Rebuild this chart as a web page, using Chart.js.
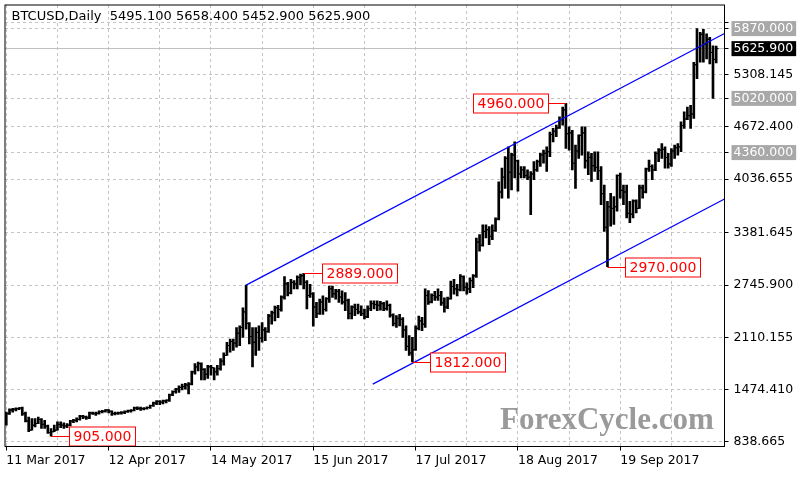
<!DOCTYPE html>
<html>
<head>
<meta charset="utf-8">
<title>BTCUSD Daily</title>
<script src="https://cdn.jsdelivr.net/npm/chart.js@4.4.0/dist/chart.umd.min.js"></script>
<style>
  html, body { margin: 0; padding: 0; background: #fff; }
  #wrap { width: 800px; height: 480px; position: relative; }
</style>
</head>
<body>
<div id="wrap"><canvas id="btc"></canvas></div>
<script>
// daily bars from 11 Mar 2017 to 19 Oct 2017
const firstDay = [2017, 2, 11];
const opens = [
  1100,1180,1225,1235,1240,1250,1180,1090,980,1040,
  1060,1110,1050,1030,950,960,980,1050,1040,1030,
  1040,1090,1100,1110,1150,1140,1130,1190,1180,1185,
  1205,1210,1225,1210,1180,1185,1190,1195,1205,1215,
  1220,1250,1245,1240,1245,1255,1280,1310,1330,1320,
  1335,1345,1410,1450,1480,1500,1510,1530,1540,1690,
  1750,1790,1720,1660,1750,1740,1690,1730,1820,1890,
  2010,2060,2040,2160,2230,2420,2280,2120,2050,2170,
  2100,2200,2180,2370,2410,2470,2450,2600,2760,2650,
  2780,2760,2840,2860,2780,2620,2640,2480,2400,2540,
  2450,2580,2700,2640,2670,2600,2540,2560,2400,2480,
  2450,2420,2400,2360,2460,2520,2510,2500,2520,2460,
  2500,2380,2280,2340,2330,2200,2000,1920,1960,2220,
  2310,2270,2620,2540,2620,2600,2620,2530,2480,2580,
  2730,2700,2690,2850,2720,2700,2800,2860,3270,3230,
  3400,3420,3340,3410,3550,3880,4060,4290,4120,4330,
  4260,4100,4150,4080,4060,4100,4150,4250,4330,4350,
  4370,4580,4620,4660,4760,4880,4590,4600,4230,4380,
  4570,4600,4260,4300,4200,4180,4140,3860,3450,3700,
  3680,3700,4080,3900,3880,3620,3610,3770,3680,3930,
  3880,4160,4190,4150,4350,4390,4400,4300,4220,4380,
  4420,4430,4690,4770,4810,4830,5430,5640,5800,5680,
  5740,5580,5495.1
];
const highs = [
  1200,1240,1245,1250,1255,1260,1200,1140,1120,1120,
  1140,1120,1100,1040,1000,1040,1080,1080,1070,1060,
  1100,1110,1130,1160,1160,1150,1200,1200,1200,1215,
  1220,1230,1230,1215,1200,1200,1205,1215,1225,1230,
  1260,1265,1260,1255,1265,1285,1320,1340,1340,1345,
  1350,1420,1460,1490,1520,1540,1550,1560,1700,1790,
  1810,1800,1730,1770,1770,1740,1770,1850,1920,2050,
  2090,2090,2230,2250,2470,2745,2290,2230,2230,2250,
  2290,2230,2390,2430,2490,2500,2615,2850,2780,2815,
  2800,2860,2880,2889,2800,2755,2655,2535,2575,2615,
  2595,2735,2735,2695,2695,2675,2655,2575,2495,2515,
  2515,2495,2455,2495,2555,2555,2555,2550,2535,2555,
  2515,2395,2375,2390,2350,2250,2130,2110,2250,2370,
  2355,2700,2680,2640,2670,2700,2670,2590,2600,2795,
  2815,2755,2875,2860,2775,2835,2875,3320,3360,3480,
  3480,3460,3480,3565,4005,4170,4310,4430,4350,4490,
  4270,4190,4190,4150,4130,4250,4270,4350,4390,4430,
  4610,4655,4695,4795,4915,4960,4675,4630,4450,4575,
  4675,4675,4370,4350,4370,4370,4190,3965,3765,3865,
  3825,4090,4110,3965,3965,3765,3785,3785,3965,3965,
  4170,4270,4210,4370,4410,4470,4430,4350,4410,4450,
  4470,4735,4855,4915,4935,5460,5870,5825,5860,5805,
  5765,5660,5658.4
];
const lows = [
  1040,1170,1200,1215,1230,1160,1080,960,980,1020,
  1060,1000,1000,940,905,960,980,1010,1000,1010,
  1030,1070,1080,1100,1120,1110,1120,1170,1160,1175,
  1190,1200,1190,1160,1165,1170,1175,1180,1195,1200,
  1215,1230,1220,1225,1235,1245,1270,1290,1290,1300,
  1310,1330,1400,1430,1440,1470,1480,1420,1530,1660,
  1700,1590,1590,1610,1650,1590,1650,1710,1770,1890,
  1930,1950,1990,2010,2110,2210,2030,1750,1890,1950,
  2050,2070,2170,2270,2310,2350,2430,2575,2615,2640,
  2700,2700,2750,2700,2455,2595,2245,2350,2390,2390,
  2430,2535,2595,2575,2535,2515,2435,2335,2335,2375,
  2395,2375,2335,2350,2435,2455,2435,2440,2435,2440,
  2355,2250,2230,2250,2110,1950,1890,1812,1950,2200,
  2190,2230,2510,2530,2560,2560,2500,2415,2460,2575,
  2635,2615,2675,2675,2635,2655,2715,2840,3160,3220,
  3320,3240,3300,3400,3540,3805,3925,3805,3905,4050,
  3890,4050,4050,4030,3605,4030,4130,4190,4230,4130,
  4310,4490,4555,4655,4695,4410,4390,4150,3925,4290,
  4330,4170,4090,4010,4130,4030,3725,3400,2970,3465,
  3485,3645,3805,3725,3565,3505,3565,3625,3680,3805,
  3870,4130,4030,4140,4250,4290,4170,4170,4190,4290,
  4330,4370,4655,4760,4655,4775,5260,5460,5460,5500,
  5440,5020,5452.9
];
const closes = [
  1180,1225,1235,1240,1250,1180,1090,980,1040,1060,
  1110,1050,1030,950,960,980,1050,1040,1030,1040,
  1090,1100,1110,1150,1140,1130,1190,1180,1185,1205,
  1210,1225,1210,1180,1185,1190,1195,1205,1215,1220,
  1250,1245,1240,1245,1255,1280,1310,1330,1320,1335,
  1345,1410,1450,1480,1500,1510,1530,1540,1690,1750,
  1790,1720,1660,1750,1740,1690,1730,1820,1890,2010,
  2060,2040,2160,2230,2420,2280,2120,2050,2170,2100,
  2200,2180,2370,2410,2470,2450,2600,2760,2650,2780,
  2760,2840,2860,2780,2620,2640,2480,2400,2540,2450,
  2580,2700,2640,2670,2600,2540,2560,2400,2480,2450,
  2420,2400,2360,2460,2520,2510,2500,2520,2460,2500,
  2380,2280,2340,2330,2200,2000,1920,1960,2220,2310,
  2270,2620,2540,2620,2600,2620,2530,2480,2580,2730,
  2700,2690,2850,2720,2700,2800,2860,3270,3230,3400,
  3420,3340,3410,3550,3880,4060,4290,4120,4330,4260,
  4100,4150,4080,4060,4100,4150,4250,4330,4350,4370,
  4580,4620,4660,4760,4880,4590,4600,4230,4380,4570,
  4600,4260,4300,4200,4180,4140,3860,3450,3700,3680,
  3700,4080,3900,3880,3620,3610,3770,3680,3930,3880,
  4160,4190,4150,4350,4390,4400,4300,4220,4380,4420,
  4430,4690,4770,4810,4830,5430,5640,5800,5680,5740,
  5580,5495.1,5625.9
];

// right price scale as printed
const priceTicks = [838.665, 1474.410, 2110.155, 2745.900, 3381.645, 4036.655, 4672.400, 5308.145, 5943.890];
const levelTicks = [4360.000, 5020.000, 5870.000];
const lastPrice = 5625.900;
const hiddenTick = 5943.890;

// marked highs and lows (bar index, price)
const markIdx = [14, 93, 127, 175, 188];
const markVal = [905.000, 2889.000, 1812.000, 4960.000, 2970.000];

// price channel anchors (bar index, price)
const upperChannel = [[75, 2745.9], [175, 4795]];
const lowerChannel = [[115, 1548], [215, 3598]];

const titleText = 'BTCUSD,Daily  5495.100 5658.400 5452.900 5625.900';
const slots = 225;

const months = ['Jan','Feb','Mar','Apr','May','Jun','Jul','Aug','Sep','Oct','Nov','Dec'];
const dates = [];
for (let i = 0; i < slots; i++) {
  const d = new Date(firstDay[0], firstDay[1], firstDay[2] + i);
  dates.push(d.getDate() + ' ' + months[d.getMonth()] + ' ' + d.getFullYear());
}

const xMin = -0.406, xMax = 224.6;

function channel(pts, from) {
  const [a, b] = pts;
  const k = (b[1] - a[1]) / (b[0] - a[0]);
  return [{x: from, y: a[1] + k * (from - a[0])}, {x: xMax, y: a[1] + k * (xMax - a[0])}];
}

const hl = lows.map((l, i) => ({x: i, y: [l, highs[i]]}));
const op = opens.map((v, i) => ({x: i, y: v}));
const cl = closes.map((v, i) => ({x: i, y: v}));

const axisFont = {family: 'DejaVu Sans', size: 12.5};
const isLevel = v => levelTicks.includes(v);

// frame, title, watermark and the red price tags
const overlay = {
  id: 'overlay',
  afterDatasetsDraw(chart) {
    const {ctx, scales: {x, y}} = chart;
    ctx.save();
    ctx.font = 'bold 31px "Liberation Serif"';
    ctx.fillStyle = '#9a9a9a';
    ctx.textBaseline = 'alphabetic';
    ctx.fillText('ForexCycle.com', 500, 429);

    ctx.font = '13px "DejaVu Sans"';
    ctx.fillStyle = '#000';
    ctx.fillText(titleText, 11.5, 20);

    ctx.font = '14px "DejaVu Sans"';
    ctx.lineWidth = 1;
    markIdx.forEach((idx, k) => {
      const px = x.getPixelForValue(idx);
      const py = Math.round(y.getPixelForValue(markVal[k])) + 0.5;
      const label = markVal[k].toFixed(3);
      const w = Math.round(ctx.measureText(label).width) + 8;
      const h = 19;
      const left = markVal[k] === 4960 ? Math.round(px - 18 - w) + 0.5 : Math.round(px + 18) + 0.5;
      ctx.strokeStyle = '#ff0000';
      ctx.beginPath();
      if (left < px) { ctx.moveTo(left + w, py); ctx.lineTo(px, py); }
      else { ctx.moveTo(px, py); ctx.lineTo(left, py); }
      ctx.stroke();
      ctx.fillStyle = '#fff';
      ctx.fillRect(left, py - h / 2, w, h);
      ctx.strokeRect(left, py - h / 2, w, h);
      ctx.fillStyle = '#ff0000';
      ctx.textBaseline = 'middle';
      ctx.fillText(label, left + 4, py + 1);
    });

    const a = chart.chartArea;
    ctx.strokeStyle = '#000';
    ctx.strokeRect(a.left, a.top, a.right - a.left, a.bottom - a.top);
    ctx.restore();
  }
};

new Chart(document.getElementById('btc'), {
  data: {
    datasets: [
      { type: 'line', data: channel(upperChannel, upperChannel[0][0]), borderColor: '#0000ff', borderWidth: 1.2, pointRadius: 0, tension: 0 },
      { type: 'line', data: channel(lowerChannel, 114.6), borderColor: '#0000ff', borderWidth: 1.2, pointRadius: 0, tension: 0 },
      { type: 'line', data: op, showLine: false, pointStyle: 'dash', pointRadius: 2.5, pointRotation: 180,
        pointBorderColor: '#000', pointBorderWidth: 1, pointBackgroundColor: '#000' },
      { type: 'line', data: cl, showLine: false, pointStyle: 'dash', pointRadius: 2.5, pointRotation: 0,
        pointBorderColor: '#000', pointBorderWidth: 1, pointBackgroundColor: '#000' },
      { type: 'bar', data: hl, backgroundColor: '#000', borderWidth: 0, barThickness: 2 }
    ]
  },
  options: {
    responsive: true,
    maintainAspectRatio: false,
    animation: false,
    devicePixelRatio: 1,
    layout: { padding: { left: 3.5, top: 2.5, right: 0, bottom: 0 } },
    plugins: { legend: { display: false }, tooltip: { enabled: false } },
    scales: {
      x: {
        type: 'linear', min: xMin, max: xMax, offset: false,
        afterBuildTicks: s => { const t = []; for (let i = 0; i <= 208; i += 16) t.push({value: i}); s.ticks = t; },
        afterFit: s => { s.height = 33.5; s.paddingLeft = 0; s.paddingRight = 0; },
        grid: {
          offset: false,
          color: '#c4c4c4', lineWidth: 1, tickLength: 4,
          tickColor: c => (c.tick && c.tick.value % 32 === 0) ? '#000' : 'rgba(0,0,0,0)'
        },
        border: { display: false, dash: [3, 3] },
        ticks: {
          autoSkip: false, maxRotation: 0, minRotation: 0, align: 'start', padding: 3,
          font: axisFont, color: '#000',
          callback: v => v % 32 === 0 ? dates[v] : ''
        }
      },
      y: {
        type: 'linear', position: 'right', min: 780.5, max: 6157.4,
        afterBuildTicks: s => {
          s.ticks = priceTicks.concat(levelTicks, [lastPrice]).sort((p, q) => p - q).map(v => ({value: v}));
        },
        afterFit: s => { s.width = 75.5; s.paddingTop = 0; s.paddingBottom = 0; },
        grid: {
          lineWidth: 1, tickLength: 4, tickColor: '#000',
          color: c => (c.tick && c.tick.value === lastPrice) ? '#c0c0c0' : '#c4c4c4'
        },
        border: { display: false, dash: c => (c.tick && c.tick.value === lastPrice) ? [] : [3, 3] },
        ticks: {
          autoSkip: false, padding: 5, crossAlign: 'near', font: axisFont,
          color: c => (c.tick && (c.tick.value === lastPrice || isLevel(c.tick.value))) ? '#fff' : '#000',
          showLabelBackdrop: c => !!(c.tick && (c.tick.value === lastPrice || isLevel(c.tick.value))),
          backdropColor: c => (c.tick && c.tick.value === lastPrice) ? '#000' : '#a8a8a8',
          backdropPadding: { top: 0, bottom: 0, left: 2, right: 3 },
          callback: v => v === hiddenTick ? '' : v.toFixed(3)
        }
      }
    }
  },
  plugins: [overlay]
});
</script>
</body>
</html>
